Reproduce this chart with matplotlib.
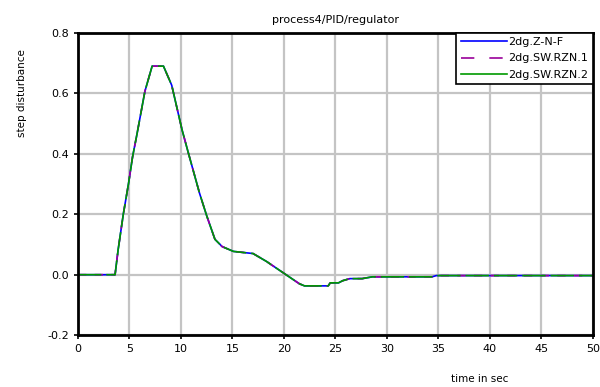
import matplotlib
matplotlib.use("Agg")
import matplotlib.pyplot as plt
from matplotlib.lines import Line2D

# values (three controllers, nearly identical)
t = [0, 3.5, 3.6, 3.9, 4.4, 4.9, 5.3, 5.7, 6.5, 7.2, 8.3, 9.1, 10.1, 10.7,
     11.8, 12.5, 13.3, 14.0, 15.1, 17.0, 18.3, 19.9, 21.5, 22.0, 24.3, 24.5,
     25.3, 25.7, 26.4, 27.6, 28.6, 34.4, 34.8, 50]
y_znf = [0, 0, 0.0, 0.083, 0.2, 0.3, 0.39, 0.46, 0.607, 0.69, 0.69, 0.627,
         0.48, 0.405, 0.27, 0.195, 0.117, 0.093, 0.077, 0.07, 0.044, 0.007,
         -0.03, -0.037, -0.037, -0.027, -0.027, -0.02, -0.013, -0.013,
         -0.007, -0.007, -0.003, -0.003]
y_rzn1 = [0, 0, 0.0, 0.083, 0.2, 0.3, 0.39, 0.46, 0.607, 0.69, 0.69, 0.627,
          0.48, 0.405, 0.27, 0.195, 0.117, 0.093, 0.077, 0.07, 0.044, 0.007,
          -0.03, -0.037, -0.037, -0.027, -0.027, -0.02, -0.013, -0.013,
          -0.007, -0.007, -0.003, -0.003]
y_rzn2 = [0, 0, 0.0, 0.083, 0.2, 0.3, 0.39, 0.46, 0.607, 0.69, 0.69, 0.627,
          0.48, 0.405, 0.27, 0.195, 0.117, 0.093, 0.077, 0.07, 0.044, 0.007,
          -0.03, -0.037, -0.037, -0.027, -0.027, -0.02, -0.013, -0.013,
          -0.007, -0.007, -0.003, -0.003]
labels = ["2dg.Z-N-F", "2dg.SW.RZN.1", "2dg.SW.RZN.2"]
colors = ["#0000ff", "#990099", "#009900"]
xticks = [0, 5, 10, 15, 20, 25, 30, 35, 40, 45, 50]
yticks = [-0.2, 0.0, 0.2, 0.4, 0.6, 0.8]

plt.rcParams["font.family"] = "DejaVu Sans"
fig = plt.figure(figsize=(6, 3.87), dpi=100)
ax = fig.add_axes([0.13, 0.134, 0.858, 0.781])

ax.plot(t, y_znf, color=colors[0], lw=1.2)
ax.plot(t, y_rzn1, color=colors[1], lw=1.2, dashes=(5, 5))
ax.plot(t, y_rzn2, color=colors[2], lw=1.2, dashes=(14, 3))

ax.set_xlim(0, 50)
ax.set_ylim(-0.2, 0.8)
ax.set_xticks(xticks)
ax.set_yticks(yticks)
ax.set_xticklabels([str(v) for v in xticks])
ax.set_yticklabels([f"{v:.1f}" for v in yticks])
ax.grid(True, color="#c4c4c4", lw=1.6)
ax.set_axisbelow(True)
for s in ax.spines.values():
    s.set_linewidth(2)
    s.set_color("black")
ax.tick_params(direction="out", length=3, width=1.2, labelsize=8)

ax.set_title("process4/PID/regulator", fontsize=8, pad=7)
ax.set_xlabel("time in sec", fontsize=7.5)
ax.xaxis.set_label_coords(0.78, -0.13)
ax.set_ylabel("step disturbance", fontsize=7.5)
ax.yaxis.set_label_coords(-0.1, 0.8)

handles = [Line2D([], [], color=colors[0], lw=1.2),
           Line2D([], [], color=colors[1], lw=1.2, dashes=(8, 9)),
           Line2D([], [], color=colors[2], lw=1.2)]
leg = ax.legend(handles, labels, loc="upper right", fontsize=8,
                handlelength=4.2, handletextpad=0.1, labelspacing=0.55,
                borderaxespad=0, borderpad=0.4, fancybox=False, framealpha=1)
leg.get_frame().set_edgecolor("black")
leg.get_frame().set_linewidth(1.2)

fig.savefig("out.png", dpi=100)
